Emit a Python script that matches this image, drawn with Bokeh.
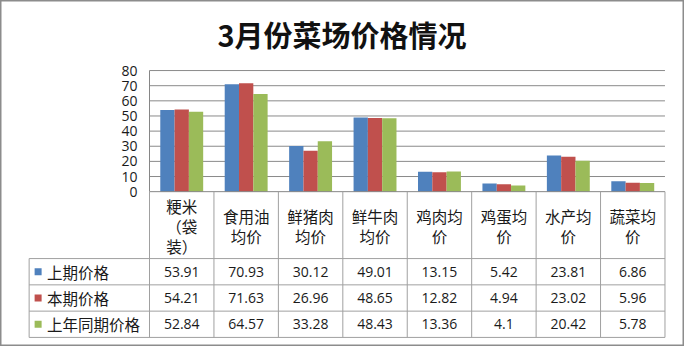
from bokeh.plotting import figure
from bokeh.models import LinearAxis, FixedTicker, Range1d, ColumnDataSource
from bokeh.core.properties import value
from bokeh.embed import file_html
from bokeh.resources import INLINE

# ---------------- data ----------------
title_text = "3月份菜场价格情况"
categories = ["粳米\n（袋\n装）", "食用油\n均价", "鲜猪肉\n均价", "鲜牛肉\n均价",
              "鸡肉均\n价", "鸡蛋均\n价", "水产均\n价", "蔬菜均\n价"]
series_names = ["上期价格", "本期价格", "上年同期价格"]
prev_price = [53.91, 70.93, 30.12, 49.01, 13.15, 5.42, 23.81, 6.86]
curr_price = [54.21, 71.63, 26.96, 48.65, 12.82, 4.94, 23.02, 5.96]
last_year_price = [52.84, 64.57, 33.28, 48.43, 13.36, 4.1, 20.42, 5.78]
y_ticks = [0, 10, 20, 30, 40, 50, 60, 70, 80]
colors = ["#4F81BD", "#C0504D", "#9BBB59"]

series = [prev_price, curr_price, last_year_price]
n_cat = len(categories)

# ---------------- layout ----------------
W, H = 684, 346
SX, SY = W / 700.0, H / 362.0      # design grid is 700 x 362, scaled to fit
AX = 152.5 * SX                     # pixel x of category axis start
CW = 65.94 * SX                     # pixel width of one category
Y0 = 200.0 * SY                     # pixel y of value 0
PPU = 126.7 * SY / 80.0             # pixels per value unit


def dx(rx):
    return (rx * SX - AX) / CW


def dy(ry):
    return (Y0 - ry * SY) / PPU


p = figure(width=W, height=H, output_backend="svg", toolbar_location=None, tools="",
           x_range=Range1d(dx(0), dx(700)), y_range=Range1d(dy(362), dy(0)),
           x_axis_type=None, y_axis_type=None, min_border=0)
p.background_fill_color = "white"
p.border_fill_color = "white"
p.outline_line_color = "#8c8c8c"
p.outline_line_width = 2

# value axis drawn at x = 0
yaxis = LinearAxis(ticker=FixedTicker(ticks=y_ticks), fixed_location=0, bounds=(0, 80))
yaxis.axis_line_color = "#868686"
yaxis.major_tick_out = 0
yaxis.major_tick_in = 0
yaxis.minor_tick_out = 0
yaxis.minor_tick_in = 0
yaxis.major_label_standoff = 12
yaxis.major_label_text_font = "Open Sans"
yaxis.major_label_text_font_size = "14px"
yaxis.major_label_text_color = "#1a1a1a"
p.add_layout(yaxis, "left")

# grid lines
gy = y_ticks[1:]
p.segment(x0=[0] * len(gy), y0=gy, x1=[n_cat] * len(gy), y1=gy,
          line_color="#8a8a8a", line_width=1)

# bars
bw = 0.222
offsets = [-bw, 0.0, bw]
for k, vals in enumerate(series):
    src = ColumnDataSource(dict(x=[i + 0.5 + offsets[k] for i in range(n_cat)], top=vals))
    p.vbar(x="x", top="top", bottom=0, width=bw, source=src,
           fill_color=colors[k], line_color=None)

# ---------------- data table ----------------
tbl_line = "#a0a0a0"
left_r = 29.3
row_r = [270.0, 297.5, 325.0, 352.5]
hy = [dy(v) for v in row_r]
# baseline (category axis)
p.segment(x0=[0], y0=[0], x1=[n_cat], y1=[0], line_color="#868686", line_width=1)
# horizontal lines
p.segment(x0=[dx(left_r)] * len(hy), y0=hy, x1=[n_cat] * len(hy), y1=hy,
          line_color=tbl_line, line_width=1)
# vertical lines
vx = list(range(n_cat + 1))
p.segment(x0=vx, y0=[0] * len(vx), x1=vx, y1=[hy[-1]] * len(vx),
          line_color=tbl_line, line_width=1)
p.segment(x0=[dx(left_r)], y0=[hy[0]], x1=[dx(left_r)], y1=[hy[-1]],
          line_color=tbl_line, line_width=1)

# category header labels, one text per line
header_c = 235.8
line_gap = 20.8
lx, ly, lt = [], [], []
for i, lab in enumerate(categories):
    lines = lab.split("\n")
    n = len(lines)
    for j, s in enumerate(lines):
        lx.append(i + 0.5)
        ly.append(dy(header_c + (j - (n - 1) / 2.0) * line_gap))
        lt.append(s)
p.text(x=lx, y=ly, text=lt, text_align="center", text_baseline="middle",
       text_font=value("Noto Sans CJK SC"), text_font_size="15.5px", text_color="#1a1a1a")

row_centers = [dy((row_r[r] + row_r[r + 1]) / 2) for r in range(3)]
# legend keys
p.scatter(x=[dx(38.5)] * 3, y=row_centers, marker="square", size=7,
          fill_color=colors, line_color=None)
p.text(x=[dx(47.5)] * 3, y=row_centers, text=series_names, text_align="left",
       text_baseline="middle", text_font=value("Noto Sans CJK SC"),
       text_font_size="15.5px", text_color="#1a1a1a")

# values
tx, ty, tt = [], [], []
for k, vals in enumerate(series):
    for i, v in enumerate(vals):
        tx.append(i + 0.5)
        ty.append(row_centers[k])
        tt.append(f"{v:g}")
p.text(x=tx, y=ty, text=tt, text_align="center", text_baseline="middle",
       text_font=value("Open Sans"), text_font_size="14px", text_color="#1a1a1a")

# title
p.text(x=[dx(349.5)], y=[dy(35)], text=[title_text], text_align="center",
       text_baseline="middle", text_font=value("Noto Sans CJK SC"),
       text_font_size="29px", text_font_style="bold", text_color="#111111")

open("out.html", "w").write(file_html(p, INLINE))
